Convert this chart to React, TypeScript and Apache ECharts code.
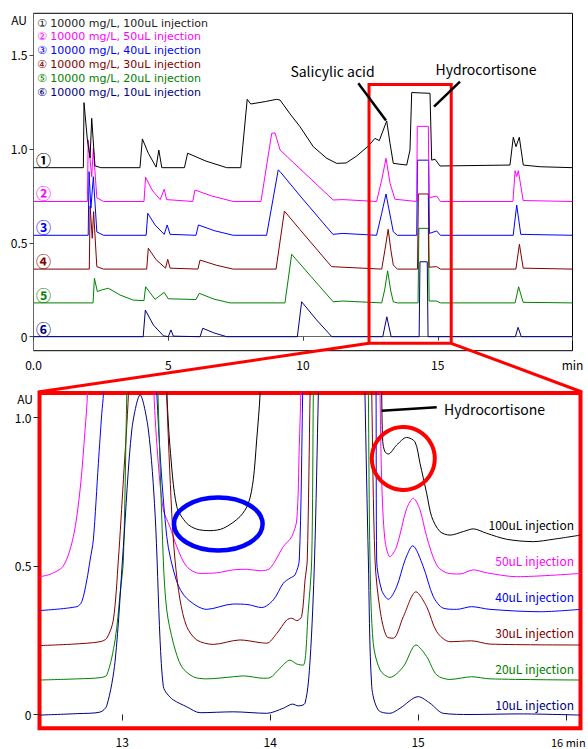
import React, { useEffect, useRef } from "react";
import * as echarts from "echarts";

type Pt = [number, number];

const traceColors = ["#000000", "#ff00ff", "#0000ff", "#800000", "#008000", "#000080"];
const circledNumbers = ["①", "②", "③", "④", "⑤", "⑥"];
const injectionVolumes = ["100uL", "50uL", "40uL", "30uL", "20uL", "10uL"];
const concentration = "10000 mg/L";

const overviewTicksX = [0, 5, 10, 15, 20];
const overviewTicksY = [0, 0.5, 1.0, 1.5];
const detailTicksX = [13, 14, 15, 16];
const detailTicksY = [0, 0.5, 1.0];

// vertical offsets of the stacked traces in the overview
const overviewOffsets = [0.9, 0.72, 0.54, 0.36, 0.18, 0];
// zoom window (min) shown in the lower panel
const zoomWindowX = [12.45, 15.5];
const zoomWindowY = [-0.035, 1.343];

// ---- overview traces (time min, AU above own baseline) ----
const overview100: Pt[] = [[0,0],[1.85,0],[1.874,0.346],[2.0,0.147],[2.10,0.052],[2.16,0.263],[2.28,0.01],[2.5,0],[3.95,0],[4.04,0.153],[4.26,0.077],[4.55,0.003],[4.65,0.094],[4.76,0],[5.6,0],[5.72,0.077],[6.4,0.035],[7.17,0],[7.69,0],[7.93,0.364],[8.06,0.339],[8.6,0.352],[9.02,0.364],[9.15,0.36],[9.5,0.29],[9.89,0.218],[10.38,0.112],[10.88,0.05],[11.25,0.023],[11.6,0.025],[11.99,0.062],[12.42,0.115],[12.67,0.156],[12.83,0.144],[13.106,0.249],[13.228,0.13],[13.351,0.023],[13.848,0.014],[13.97,0.094],[14.033,0.4],[14.712,0.396],[14.775,0.04],[14.898,0.045],[15.083,0.009],[17.68,0.014],[17.803,0.162],[17.904,0.112],[18.026,0.162],[18.174,0.014],[18.8,0.005],[20,0]];
const overview50: Pt[] = [[0,0],[2.0,0],[2.03,0.327],[2.16,0.132],[2.22,0.283],[2.35,0.02],[2.6,0],[4.10,0],[4.16,0.129],[4.40,0.061],[4.70,0.01],[4.85,0.065],[4.94,0.01],[5.91,0],[5.99,0.061],[6.6,0.03],[7.41,0],[8.44,0],[8.84,0.363],[8.96,0.365],[9.15,0.274],[9.89,0.174],[11.12,0.008],[11.48,0.01],[12.73,0],[12.92,0.114],[13.08,0.23],[13.23,0.097],[13.41,0.012],[14.22,0],[14.24,0.4],[14.65,0.4],[14.68,0.02],[14.96,0.029],[15.1,0],[17.79,0],[17.87,0.164],[17.93,0.132],[17.99,0.164],[18.17,0.005],[20,0]];
const overview40: Pt[] = [[0,0],[2.03,0],[2.06,0.339],[2.13,0.144],[2.22,0.312],[2.35,0.018],[2.6,0],[4.18,0],[4.24,0.117],[4.51,0.055],[4.85,0.005],[4.96,0.055],[5.07,0.005],[6.03,0],[6.12,0.055],[6.7,0.025],[7.41,0],[8.65,0],[9.08,0.348],[9.15,0.339],[9.89,0.21],[11.11,0.005],[11.48,0.01],[12.73,0],[12.92,0.117],[13.08,0.22],[13.23,0.108],[13.35,0.019],[13.5,0],[14.22,0],[14.25,0.4],[14.66,0.4],[14.69,0.01],[14.96,0.023],[15.1,0],[17.8,0],[17.93,0.161],[18.08,0.005],[20,0]];
const overview30: Pt[] = [[0,0],[2.07,0],[2.10,0.336],[2.18,0.164],[2.23,0.306],[2.35,0.013],[2.6,0],[4.2,0],[4.26,0.111],[4.55,0.05],[4.9,0.005],[4.98,0.052],[5.07,0.005],[6.1,0],[6.18,0.048],[6.8,0.02],[7.41,0],[9.0,0],[9.31,0.309],[9.89,0.21],[11.06,0.013],[11.48,0.01],[12.92,0],[13.04,0.102],[13.16,0.212],[13.26,0.102],[13.35,0.022],[13.5,0],[14.25,0],[14.28,0.4],[14.65,0.4],[14.68,0.01],[14.96,0.013],[15.1,0],[17.9,0],[18.03,0.132],[18.17,0.005],[20,0]];
const overview20: Pt[] = [[0,0],[2.21,0],[2.26,0.131],[2.37,0.06],[2.55,0.07],[2.78,0.078],[3.21,0.042],[3.70,0.015],[4.10,0.012],[4.16,0.086],[4.51,0.019],[4.85,0.056],[5.0,0.022],[6.03,0.018],[6.15,0.051],[6.7,0.02],[7.29,0],[9.33,0],[9.58,0.259],[10.3,0.14],[11.12,0.006],[11.48,0.01],[12.92,0],[13.03,0.069],[13.14,0.171],[13.25,0.069],[13.35,0.006],[13.5,0],[14.27,0],[14.3,0.397],[14.65,0.397],[14.68,0.01],[14.96,0.01],[15.1,0],[17.87,0],[18.0,0.086],[18.17,0.003],[20,0]];
const overview10: Pt[] = [[0,0],[4.07,0],[4.15,0.142],[4.45,0.062],[4.82,0.005],[5.0,0],[5.10,0.036],[5.19,0.003],[6.18,0],[6.28,0.045],[6.7,0.02],[7.17,0],[9.79,0],[9.95,0.186],[10.5,0.09],[11.07,0],[12.96,0],[13.11,0.106],[13.27,0],[14.31,0],[14.34,0.399],[14.61,0.399],[14.64,0],[17.88,0],[17.98,0.05],[18.1,0],[20,0]];
const overviewTraces = [overview100, overview50, overview40, overview30, overview20, overview10];

// ---- detail traces (time min, AU as plotted in the lower panel) ----
const detail100: Pt[] = [[12.441,1.6],[13.25,1.6],[13.29,1.2],[13.301,1.082],[13.323,0.902],[13.369,0.70],[13.436,0.644],[13.504,0.624],[13.594,0.619],[13.684,0.627],[13.796,0.666],[13.853,0.711],[13.886,0.79],[13.909,0.924],[13.932,1.08],[13.95,1.4],[14.74,1.4],[14.754,1.08],[14.761,0.92],[14.776,0.885],[14.799,0.877],[14.855,0.907],[14.923,0.933],[14.979,0.918],[15.013,0.846],[15.058,0.745],[15.092,0.666],[15.148,0.616],[15.216,0.604],[15.306,0.616],[15.373,0.625],[15.464,0.61],[15.599,0.59],[15.779,0.582],[15.914,0.59],[16.098,0.604]];
const detail50: Pt[] = [[12.441,0.464],[12.512,0.472],[12.602,0.50],[12.67,0.599],[12.715,0.756],[12.749,0.958],[12.765,1.08],[12.775,1.4],[13.205,1.4],[13.215,1.08],[13.244,0.846],[13.278,0.689],[13.323,0.632],[13.369,0.565],[13.436,0.498],[13.526,0.475],[13.639,0.477],[13.751,0.487],[13.842,0.489],[13.932,0.484],[13.999,0.492],[14.089,0.565],[14.146,0.599],[14.18,0.655],[14.197,0.902],[14.207,1.08],[14.215,1.4],[14.735,1.4],[14.743,1.08],[14.754,0.79],[14.776,0.588],[14.81,0.531],[14.855,0.565],[14.923,0.694],[14.968,0.728],[15.013,0.689],[15.058,0.599],[15.126,0.503],[15.193,0.477],[15.283,0.473],[15.373,0.487],[15.464,0.477],[15.666,0.464],[16.098,0.475]];
const detail40: Pt[] = [[12.441,0.35],[12.693,0.363],[12.727,0.38],[12.761,0.453],[12.783,0.52],[12.805,0.588],[12.839,0.846],[12.862,1.014],[12.873,1.08],[12.885,1.4],[13.225,1.4],[13.234,1.08],[13.301,0.6],[13.369,0.447],[13.436,0.391],[13.571,0.354],[13.751,0.372],[13.85,0.37],[13.943,0.36],[14.022,0.386],[14.089,0.442],[14.134,0.459],[14.168,0.47],[14.197,0.52],[14.22,1.08],[14.23,1.4],[14.71,1.4],[14.716,1.08],[14.72,0.52],[14.754,0.419],[14.799,0.388],[14.855,0.43],[14.912,0.52],[14.964,0.568],[15.035,0.498],[15.103,0.397],[15.17,0.358],[15.261,0.354],[15.362,0.363],[15.486,0.354],[15.824,0.346],[16.098,0.354]];
const detail30: Pt[] = [[12.441,0.232],[12.67,0.237],[12.85,0.245],[12.896,0.257],[12.94,0.318],[12.974,0.52],[13.008,0.79],[13.042,1.08],[13.055,1.4],[13.29,1.4],[13.301,1.08],[13.335,0.677],[13.357,0.52],[13.391,0.386],[13.436,0.296],[13.504,0.251],[13.616,0.236],[13.796,0.251],[13.932,0.242],[13.977,0.24],[14.045,0.273],[14.112,0.318],[14.146,0.324],[14.18,0.316],[14.213,0.33],[14.236,0.453],[14.251,0.52],[14.27,1.08],[14.28,1.4],[14.68,1.4],[14.687,1.08],[14.709,0.52],[14.743,0.352],[14.788,0.262],[14.833,0.257],[14.9,0.329],[14.986,0.413],[15.058,0.363],[15.126,0.279],[15.216,0.245],[15.362,0.248],[15.486,0.237],[16.098,0.234]];
const detail20: Pt[] = [[12.441,0.116],[12.70,0.12],[12.85,0.124],[12.896,0.133],[12.952,0.251],[12.986,0.408],[13.008,0.52],[13.031,1.08],[13.045,1.4],[13.23,1.4],[13.242,1.08],[13.278,0.52],[13.301,0.352],[13.346,0.24],[13.402,0.161],[13.481,0.127],[13.571,0.12],[13.751,0.127],[13.819,0.13],[13.954,0.122],[13.999,0.124],[14.067,0.156],[14.134,0.183],[14.18,0.17],[14.224,0.166],[14.258,0.352],[14.281,0.52],[14.292,1.08],[14.30,1.4],[14.655,1.4],[14.664,1.08],[14.675,0.52],[14.697,0.24],[14.743,0.15],[14.81,0.125],[14.9,0.161],[14.986,0.234],[15.058,0.195],[15.126,0.133],[15.216,0.118],[15.362,0.127],[15.486,0.12],[16.098,0.116]];
const detail10: Pt[] = [[12.441,-0.002],[12.70,0.003],[12.85,0.008],[12.896,0.03],[12.952,0.18],[13.008,0.565],[13.065,0.958],[13.121,1.076],[13.177,0.958],[13.222,0.678],[13.256,0.25],[13.278,0.094],[13.301,0.071],[13.346,0.049],[13.436,0.026],[13.526,0.006],[13.751,0.009],[13.977,0.004],[14.089,0.021],[14.152,0.035],[14.19,0.029],[14.236,0.038],[14.27,0.183],[14.30,0.52],[14.326,1.08],[14.34,1.4],[14.63,1.4],[14.641,1.08],[14.664,0.52],[14.687,0.094],[14.731,0.015],[14.81,0.004],[14.878,0.021],[15.001,0.06],[15.081,0.038],[15.17,0.004],[15.351,0],[15.689,0.002],[16.098,-0.002]];
const detailTraces = [detail100, detail50, detail40, detail30, detail20, detail10];

const FONT = '"Noto Sans CJK JP", "Noto Sans", sans-serif';
const LEGEND_FONT = '"DejaVu Sans", "Noto Sans CJK JP", sans-serif';

const fmtY = (v: number) => (v === 0 ? "0" : v.toFixed(1));

function text(x: number, y: number, str: string, fill: string, size: number, align = "left", weight = "normal", family = FONT) {
  return {
    type: "text",
    x,
    y,
    z: 100,
    silent: true,
    style: {
      text: str,
      fill,
      fontSize: size,
      fontFamily: family,
      fontWeight: weight,
      align,
      verticalAlign: "middle",
    },
  };
}

function line(x1: number, y1: number, x2: number, y2: number, stroke: string, w: number) {
  return { type: "line", z: 100, silent: true, shape: { x1, y1, x2, y2 }, style: { stroke, lineWidth: w } };
}

export default function App() {
  const ref = useRef<HTMLDivElement>(null);
  useEffect(() => {
    if (!ref.current) return;
    const chart = echarts.init(ref.current, undefined, { renderer: "svg" });

    const axisLabelCommon = { color: "#000", fontSize: 12, fontFamily: FONT };

    const topSeries = overviewTraces.map((pts, i) => ({
      type: "line",
      xAxisIndex: 0,
      yAxisIndex: 0,
      data: pts.map(([t, v]) => [t, v + overviewOffsets[i]]),
      symbol: "none",
      showSymbol: false,
      smooth: false,
      silent: true,
      z: 2 + (5 - i),
      lineStyle: { color: traceColors[i], width: 1 },
      itemStyle: { color: traceColors[i] },
      markArea:
        i === 0
          ? {
              silent: true,
              z: 20,
              itemStyle: { color: "rgba(0,0,0,0)", borderColor: "#ff0000", borderWidth: 3 },
              data: [[{ xAxis: zoomWindowX[0], yAxis: zoomWindowY[0] }, { xAxis: zoomWindowX[1], yAxis: zoomWindowY[1] }]],
            }
          : undefined,
    }));

    const bottomSeries = detailTraces.map((pts, i) => ({
      type: "line",
      xAxisIndex: 1,
      yAxisIndex: 1,
      data: pts,
      symbol: "none",
      showSymbol: false,
      smooth: 0.3,
      clip: true,
      silent: true,
      lineStyle: { color: traceColors[i], width: 1 },
      itemStyle: { color: traceColors[i] },
    }));

    const legendGraphics = injectionVolumes.map((vol, i) =>
      text(37, 23 + i * 13.8, `${circledNumbers[i]} ${concentration}, ${vol} injection`, i === 0 ? "#222" : traceColors[i], 11, "left", "normal", LEGEND_FONT)
    );

    const traceNumberGraphics = circledNumbers.map((c, i) => {
      const baseY = 336.7 - overviewOffsets[i] * 187.8;
      return text(43.5, baseY - 8.5, c, traceColors[i], 15, "center", "bold");
    });
    const rightLabels = injectionVolumes.map((vol, i) =>
      text(574, 524 + i * 36, `${vol} injection`, traceColors[i], 12, "right")
    );
    const lastTick = detailTicksX[detailTicksX.length - 1];

    chart.setOption({
      animation: false,
      backgroundColor: "#ffffff",
      grid: [
        { left: 33.5, top: 13.3, width: 539, height: 337.4, show: true, borderColor: "#000", borderWidth: 1, backgroundColor: "transparent", containLabel: false, outerBoundsMode: "none" },
        { left: 39.5, top: 393, width: 541, height: 335.3, show: true, borderColor: "#ff0000", borderWidth: 4, backgroundColor: "transparent", containLabel: false, outerBoundsMode: "none" },
      ],
      xAxis: [
        {
          type: "value",
          gridIndex: 0,
          min: overviewTicksX[0],
          max: overviewTicksX[overviewTicksX.length - 1],
          interval: 5,
          axisLine: { show: true, lineStyle: { color: "#666", width: 1 } },
          axisTick: { show: true, length: 4, lineStyle: { color: "#444" } },
          axisLabel: {
            ...axisLabelCommon,
            margin: 8,
            formatter: (v: number) => (v === 0 ? "0.0" : v === 20 ? "min" : String(v)),
          },
          splitLine: { show: false },
        },
        {
          type: "value",
          gridIndex: 1,
          min: 12.441,
          max: 16.098,
          axisLine: { show: false },
          axisTick: { show: true, length: 6, customValues: detailTicksX, lineStyle: { color: "#222" } },
          axisLabel: {
            ...axisLabelCommon,
            margin: 7,
            customValues: detailTicksX.filter((v) => v !== lastTick),
            formatter: (v: number) => String(v),
          },
          splitLine: { show: false },
        },
      ],
      yAxis: [
        {
          type: "value",
          gridIndex: 0,
          min: -0.0745,
          max: 1.722,
          axisLine: { show: true, lineStyle: { color: "#666", width: 1 } },
          axisTick: { show: true, length: 4, customValues: overviewTicksY, lineStyle: { color: "#444" } },
          axisLabel: { ...axisLabelCommon, margin: 6, customValues: overviewTicksY, formatter: fmtY },
          splitLine: { show: false },
        },
        {
          type: "value",
          gridIndex: 1,
          min: -0.0465,
          max: 1.0825,
          axisLine: { show: false },
          axisTick: { show: true, length: 6, customValues: detailTicksY, lineStyle: { color: "#222" } },
          axisLabel: { ...axisLabelCommon, margin: 8, customValues: detailTicksY, formatter: fmtY },
          splitLine: { show: false },
        },
      ],
      series: [...topSeries, ...bottomSeries],
      graphic: [
        text(19, 19, "AU", "#000", 12, "center"),
        text(25, 398, "AU", "#000", 12, "center"),
        ...legendGraphics,
        ...traceNumberGraphics,
        text(332.5, 70.5, "Salicylic acid", "#000", 14, "center"),
        text(486, 68.5, "Hydrocortisone", "#000", 14, "center"),
        line(358.3, 83.3, 386, 120.5, "#000", 2.5),
        line(460, 81.7, 434, 106.7, "#000", 2.5),
        line(369, 343.3, 38, 392, "#ff0000", 3),
        line(451.2, 343.3, 582, 392, "#ff0000", 3),
        text(444, 408.5, "Hydrocortisone", "#000", 14),
        line(381.7, 410.7, 436.7, 407.3, "#000", 2.5),
        { type: "circle", z: 100, silent: true, shape: { cx: 403.3, cy: 458.5, r: 31.5 }, style: { fill: "none", stroke: "#ff0000", lineWidth: 4 } },
        { type: "ellipse", z: 100, silent: true, shape: { cx: 218.3, cy: 524, rx: 44.3, ry: 26.5 }, style: { fill: "none", stroke: "#0000ff", lineWidth: 4.5 } },
        ...rightLabels,
        text(551, 742, `${lastTick} min`, "#000", 11),
      ],
    });
    return () => chart.dispose();
  }, []);

  return (
    <div
      ref={ref}
      style={{ position: "fixed", left: 0, top: 0, width: 588, height: 749, background: "#fff" }}
    />
  );
}
